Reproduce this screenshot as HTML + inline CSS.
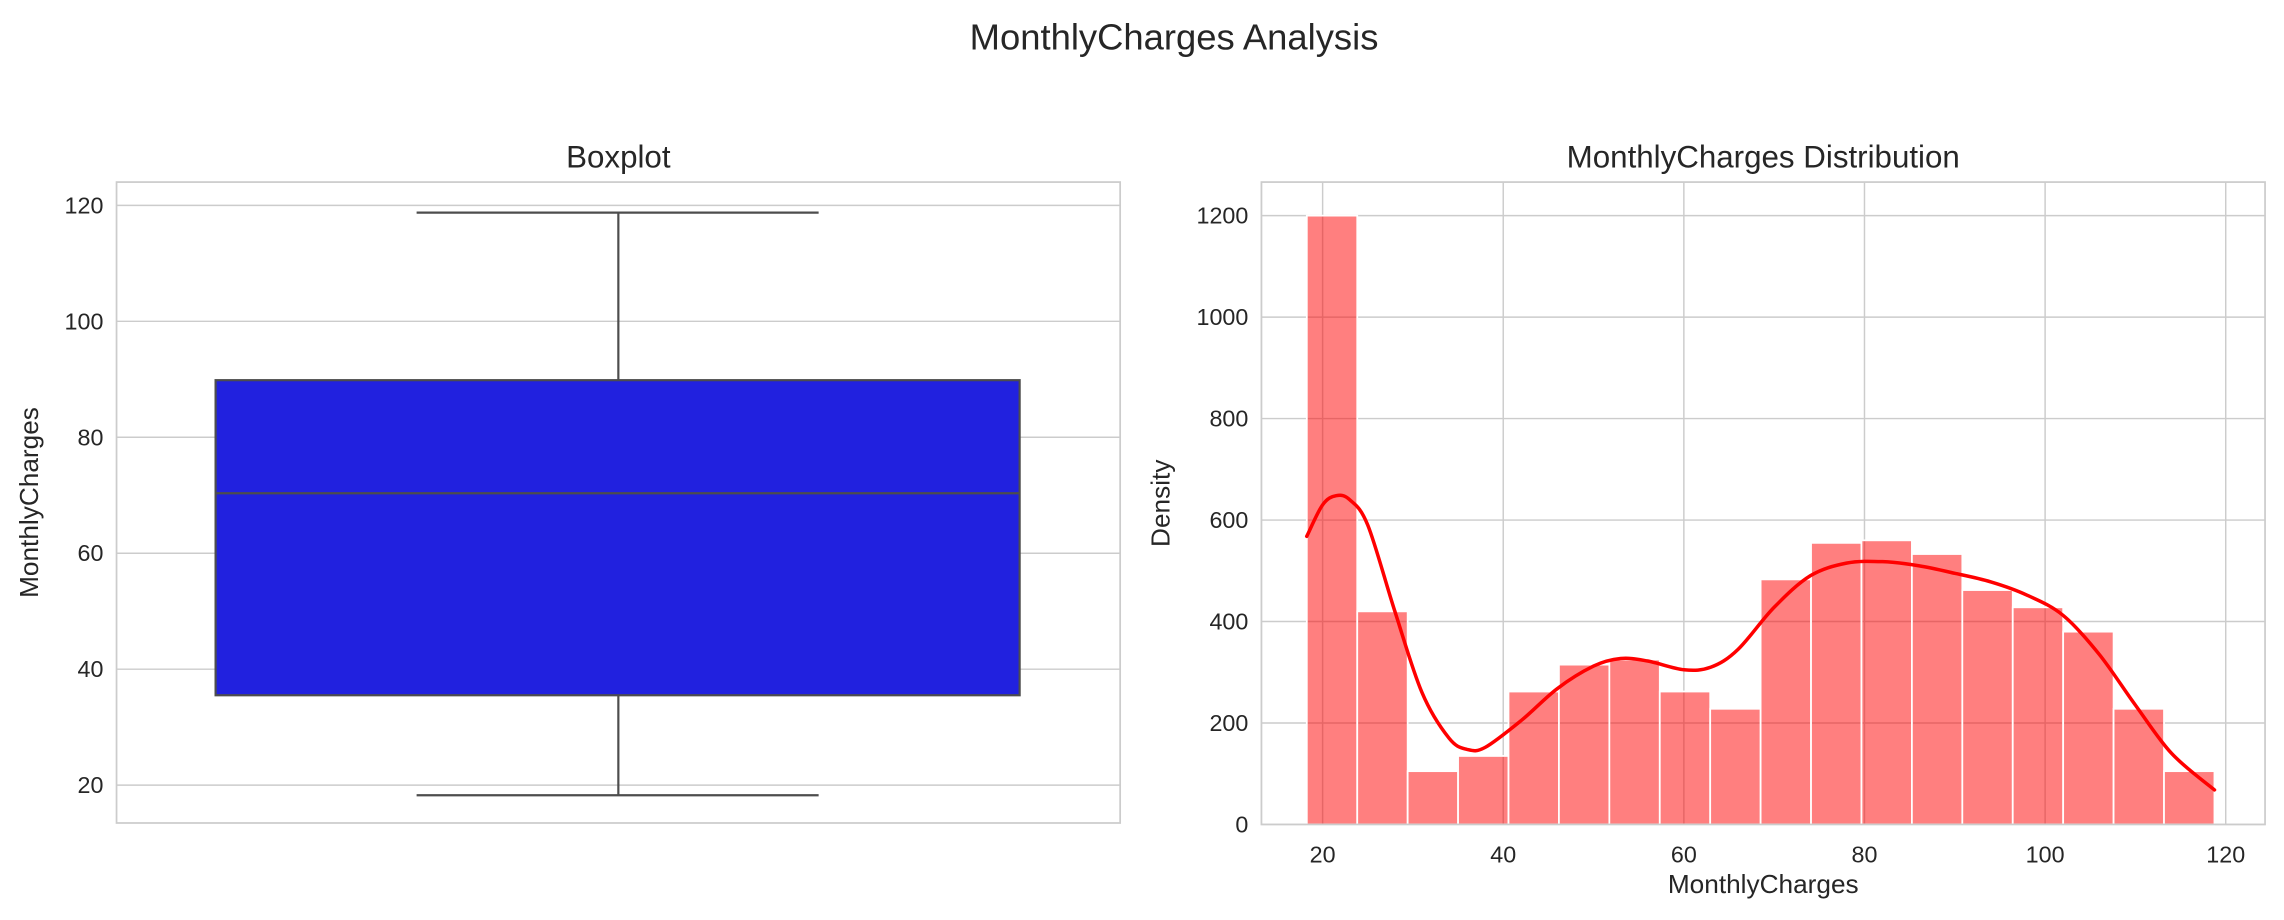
<!DOCTYPE html>
<html><head><meta charset="utf-8"><style>
html,body{margin:0;padding:0;background:#fff}
svg{display:block;font-family:"Liberation Sans",Arial,sans-serif}
</style></head><body>
<svg id="fig" width="2284" height="920" viewBox="0 0 1568 631.6">
<text x="806" y="34" text-anchor="middle" font-size="25" fill="#262626">MonthlyCharges Analysis</text>
<g id="left"></g>
<g id="right"></g>
</svg>
<script>
// Boxplot data
const boxStats = [18.25, 35.5, 70.35, 89.85, 118.75]; // min, q1, median, q3, max
const boxTicks = [20, 40, 60, 80, 100, 120];
// Histogram data
const binStart = 18.25, binEnd = 118.75;
const binCounts = [1200, 420, 105, 135, 262, 315, 325, 262, 228, 483, 555, 560, 533, 462, 428, 380, 228, 105];
const kdeX = [18.25, 20, 21.5, 23, 25, 28, 31, 34, 36, 38, 42, 46, 50, 53, 56, 60, 63, 66, 70, 74, 78, 82, 86, 90, 94, 98, 102, 106, 110, 114, 118.75];
const kdeY = [568, 630, 648, 640, 590, 420, 260, 170, 148, 152, 205, 268, 312, 327, 322, 305, 310, 345, 428, 490, 515, 518, 510, 495, 478, 452, 412, 335, 235, 140, 68];
const histXTicks = [20, 40, 60, 80, 100, 120];
const histYTicks = [0, 200, 400, 600, 800, 1000, 1200];

const NS = "http://www.w3.org/2000/svg";
function mk(parent, tag, attrs, text) {
  const e = document.createElementNS(NS, tag);
  for (const k in attrs) e.setAttribute(k, attrs[k]);
  if (text !== undefined) e.textContent = text;
  parent.appendChild(e);
  return e;
}
const grid = "#cccccc", tc = "#262626";
const TF = 16, LF = 18, HF = 21.5;

// ---- Left panel
const L = document.getElementById('left');
const lx0 = 80, lx1 = 769, ly0 = 125, ly1 = 565;
const ly = v => 539 - (v - 20) * 3.98;
let t = mk(L, 'text', {x: (lx0 + lx1) / 2, y: 115, 'text-anchor': 'middle', 'font-size': HF, fill: tc}, 'Boxplot');
 
boxTicks.forEach(v => {
  const g = mk(L, 'line', {x1: lx0, x2: lx1, y1: ly(v), y2: ly(v), stroke: grid, 'stroke-width': 1});
   
  const tx = mk(L, 'text', {x: lx0 - 9, y: ly(v) + 5.5, 'text-anchor': 'end', 'font-size': TF, fill: tc}, String(v));
   
});
t = mk(L, 'text', {x: 0, y: 0, transform: `translate(26,${(ly0 + ly1) / 2}) rotate(-90)`, 'text-anchor': 'middle', 'font-size': LF, fill: tc}, 'MonthlyCharges');
 
const cx = 424.5, bx0 = 148, bx1 = 700, cap0 = 286, cap1 = 562, ec = "#4d4d4d";
let e = mk(L, 'line', {x1: cx, x2: cx, y1: ly(boxStats[0]), y2: ly(boxStats[1]), stroke: ec, 'stroke-width': 1.5});
 
e = mk(L, 'line', {x1: cx, x2: cx, y1: ly(boxStats[3]), y2: ly(boxStats[4]), stroke: ec, 'stroke-width': 1.5});
 
e = mk(L, 'line', {x1: cap0, x2: cap1, y1: ly(boxStats[0]), y2: ly(boxStats[0]), stroke: ec, 'stroke-width': 1.5});
 
e = mk(L, 'line', {x1: cap0, x2: cap1, y1: ly(boxStats[4]), y2: ly(boxStats[4]), stroke: ec, 'stroke-width': 1.5});
 
e = mk(L, 'rect', {x: bx0, y: ly(boxStats[3]), width: bx1 - bx0, height: ly(boxStats[1]) - ly(boxStats[3]), fill: '#2121df', stroke: ec, 'stroke-width': 1.5});
 
e = mk(L, 'line', {x1: bx0, x2: bx1, y1: ly(boxStats[2]), y2: ly(boxStats[2]), stroke: ec, 'stroke-width': 1.5});
 
e = mk(L, 'rect', {x: lx0, y: ly0, width: lx1 - lx0, height: ly1 - ly0, fill: 'none', stroke: grid, 'stroke-width': 1.2});
 

// ---- Right panel
const R = document.getElementById('right');
const rx0 = 866, rx1 = 1555, ry0 = 125, ry1 = 566;
const rx = v => 908 + (v - 20) * 6.2;
const ry = v => 566 - v * 0.3483;
t = mk(R, 'text', {x: (rx0 + rx1) / 2, y: 115, 'text-anchor': 'middle', 'font-size': HF, fill: tc}, 'MonthlyCharges Distribution');
 
histYTicks.forEach(v => {
  const g = mk(R, 'line', {x1: rx0, x2: rx1, y1: ry(v), y2: ry(v), stroke: grid, 'stroke-width': 1});
   
  const tx = mk(R, 'text', {x: rx0 - 9, y: ry(v) + 5.5, 'text-anchor': 'end', 'font-size': TF, fill: tc}, String(v));
   
});
histXTicks.forEach(v => {
  const g = mk(R, 'line', {x1: rx(v), x2: rx(v), y1: ry0, y2: ry1, stroke: grid, 'stroke-width': 1});
   
  const tx = mk(R, 'text', {x: rx(v), y: 592, 'text-anchor': 'middle', 'font-size': TF, fill: tc}, String(v));
   
});
const bw = (binEnd - binStart) / binCounts.length;
binCounts.forEach((c, i) => {
  const x0 = rx(binStart + i * bw), x1 = rx(binStart + (i + 1) * bw);
  const b = mk(R, 'rect', {x: x0, y: ry(c), width: x1 - x0, height: ry(0) - ry(c), fill: 'rgba(255,0,0,0.5)', stroke: '#fff', 'stroke-width': 1.2});
   
});
// smooth Catmull-Rom path through KDE points
const P = kdeX.map((x, i) => [rx(x), ry(kdeY[i])]);
let d = 'M' + P[0][0].toFixed(1) + ',' + P[0][1].toFixed(1);
for (let i = 0; i < P.length - 1; i++) {
  const p0 = P[Math.max(0, i - 1)], p1 = P[i], p2 = P[i + 1], p3 = P[Math.min(P.length - 1, i + 2)];
  const c1 = [p1[0] + (p2[0] - p0[0]) / 6, p1[1] + (p2[1] - p0[1]) / 6];
  const c2 = [p2[0] - (p3[0] - p1[0]) / 6, p2[1] - (p3[1] - p1[1]) / 6];
  d += 'C' + c1.map(n => n.toFixed(1)).join(',') + ' ' + c2.map(n => n.toFixed(1)).join(',') + ' ' + p2.map(n => n.toFixed(1)).join(',');
}
e = mk(R, 'path', {d: d, fill: 'none', stroke: '#ff0000', 'stroke-width': 2.4, 'stroke-linejoin': 'round', 'stroke-linecap': 'round'});
 
e = mk(R, 'rect', {x: rx0, y: ry0, width: rx1 - rx0, height: ry1 - ry0, fill: 'none', stroke: grid, 'stroke-width': 1.2});
 
t = mk(R, 'text', {x: (rx0 + rx1) / 2, y: 613, 'text-anchor': 'middle', 'font-size': LF, fill: tc}, 'MonthlyCharges');
 
t = mk(R, 'text', {x: 0, y: 0, transform: `translate(803,${(ry0 + ry1) / 2}) rotate(-90)`, 'text-anchor': 'middle', 'font-size': LF, fill: tc}, 'Density');
 
</script>
</body></html>
